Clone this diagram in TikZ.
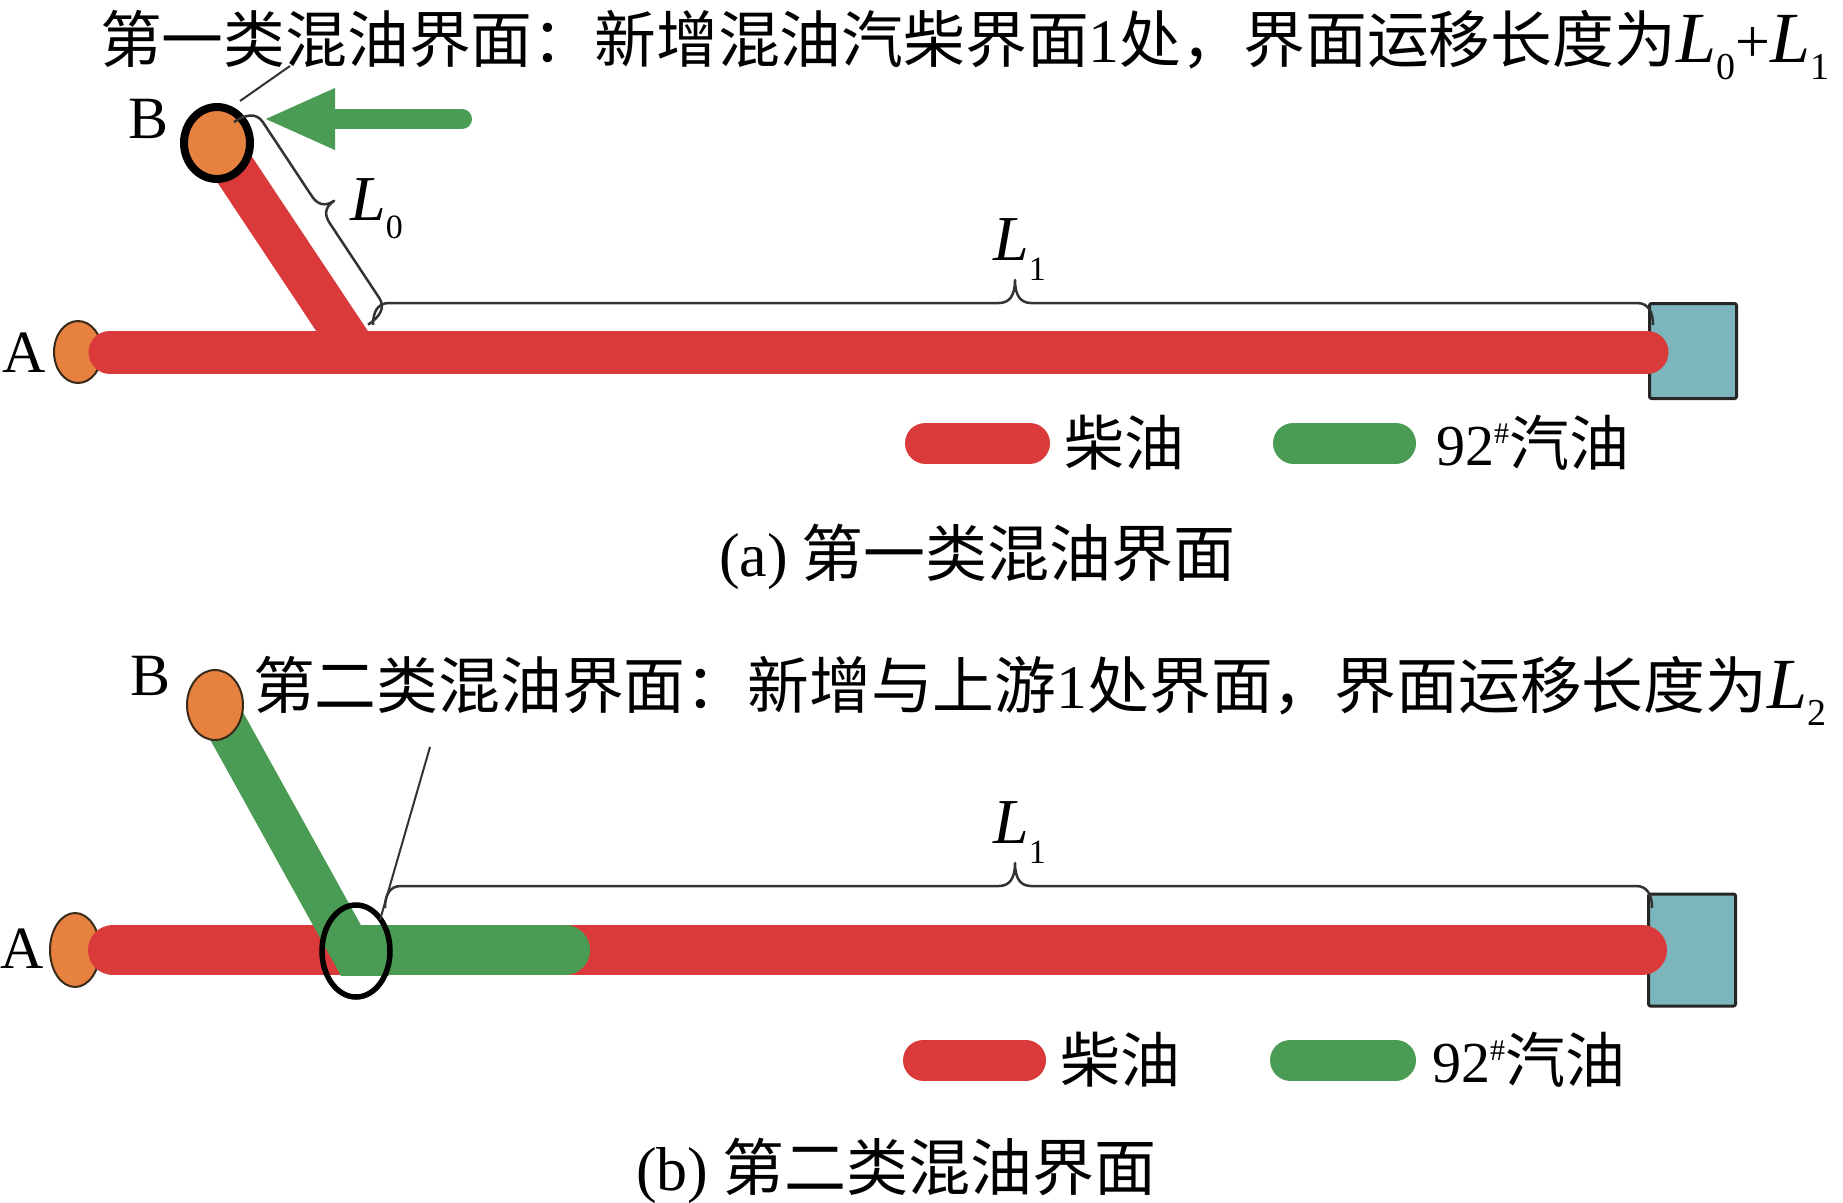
\documentclass[tikz,border=0pt]{standalone}
\usepackage{fontspec}
\setmainfont{Liberation Serif}
\newfontfamily\cjk{Noto Sans CJK SC}
\usetikzlibrary{shapes.geometric,arrows.meta}
\definecolor{pipered}{HTML}{DB3A3A}
\definecolor{pipegreen}{HTML}{4A9C55}
\definecolor{nodeorange}{HTML}{E6813F}
\definecolor{tankteal}{HTML}{7DB5BD}
\definecolor{edgebrown}{HTML}{3A2A1A}
\definecolor{bracegray}{HTML}{333333}
\newcommand{\Lsub}[4]{{\rmfamily\itshape\fontsize{#1}{#1}\selectfont L}\raisebox{-#3pt}{\rmfamily\fontsize{#2}{#2}\selectfont #4}}
\newcommand{\rmsz}[2]{{\rmfamily\fontsize{#1}{#1}\selectfont #2}}
\newcommand{\drawbrace}[6]{%
\begin{scope}[shift={(#1)},rotate=#2]
\draw[bracestyle] (0,0) .. controls (0,{-0.55*#5}) and (4,-#5) .. (16,-#5) -- ({#4-16},-#5) .. controls ({#4-6},-#5) and (#4,{-#5-0.3*(#6-#5)}) .. (#4,-#6) .. controls (#4,{-#5-0.3*(#6-#5)}) and ({#4+6},-#5) .. ({#4+16},-#5) -- ({#3-16},-#5) .. controls ({#3-4},-#5) and (#3,{-0.55*#5}) .. (#3,0);
\end{scope}}
\begin{document}
\begin{tikzpicture}[x=1pt,y=-1pt,
  txt/.style={inner sep=0pt, outer sep=0pt, font=\cjk\fontsize{61.8}{61.8}\selectfont},
  captxt/.style={inner sep=0pt, outer sep=0pt, font=\cjk\fontsize{62}{62}\selectfont},
  legtxt/.style={inner sep=0pt, outer sep=0pt, font=\cjk\fontsize{60}{60}\selectfont},
  lblB/.style={inner sep=0pt, font=\rmfamily\fontsize{60}{60}\selectfont},
  lblA/.style={inner sep=0pt, font=\rmfamily\fontsize{60}{60}\selectfont},
  mathlbl/.style={inner sep=0pt},
  tank/.style={draw=black!85, line width=3pt, fill=tankteal, rounded corners=2pt, inner sep=0pt},
  endnode/.style={ellipse, fill=nodeorange, draw=edgebrown, line width=2pt, inner sep=0pt},
  bracestyle/.style={draw=bracegray, line width=2.5pt, line join=round},
  leader/.style={draw=black!80, line width=2pt},
  pill/.style={line width=41pt, line cap=round}]
\fill[white] (0,0) rectangle (1843,1202);
\useasboundingbox (0,0) rectangle (1843,1202);

% ---------------- panel (a) ----------------
\node[txt, anchor=base west] (ta) at (100,62) {第一类混油界面：新增混油汽柴界面\rmsz{62}{1}处，界面运移长度为\Lsub{72}{38}{17}{0}\rmsz{62}{+}\Lsub{72}{38}{17}{1}};
\node[tank, minimum width=87pt, minimum height=95pt] (Ta) at (1693,351) {};
\node[endnode, minimum width=48pt, minimum height=62pt] (Aa) at (78,352) {};
\coordinate (aS) at (110,352);
\coordinate (aE) at (1647,352);
\coordinate (Ja) at (356,352);
\coordinate (Bac) at (217,143);
\draw[pipered, line width=43pt, line cap=round] (aS) -- (aE);
\draw[pipered, line width=43pt] (Bac) -- (Ja);
\node[ellipse, fill=nodeorange, draw=black, line width=8pt, minimum width=66pt, minimum height=72pt, inner sep=0pt] (Ba) at (Bac) {};
\node[lblB, anchor=base west] (labBa) at (128,138) {B};
\node[lblA, anchor=base west] (labAa) at (2,372) {A};
\coordinate (arS) at (462,119);
\coordinate (arT) at (263,119);
\draw[pipegreen, line width=20pt, line cap=round, -{Triangle[length=72pt,width=56pt]}] (arS) -- (arT);
\coordinate (lda1) at (290,66);
\coordinate (lda2) at (240,101);
\draw[leader] (lda1) -- (lda2);
\coordinate (b0) at (234,122);
\drawbrace{b0}{-56.5}{243}{121}{24}{40}
\node[mathlbl, anchor=base west] (L0a) at (350,220) {\Lsub{64}{34}{18}{0}};
\coordinate (b1a) at (373,325);
\drawbrace{b1a}{0}{1280}{642}{22}{45}
\node[mathlbl, anchor=base west] (L1a) at (993,260) {\Lsub{64}{34}{20}{1}};
\coordinate (pra1) at (925.5,443);
\coordinate (pra2) at (1029.5,443);
\coordinate (pga1) at (1293.5,443);
\coordinate (pga2) at (1395.5,443);
\draw[pill, pipered] (pra1) -- (pra2);
\draw[pill, pipegreen] (pga1) -- (pga2);
\node[legtxt, anchor=base west] (lega1) at (1064,465) {柴油};
\node[legtxt, anchor=base west] (lega2) at (1436,465) {\rmsz{58}{92}\raisebox{22pt}{\rmsz{30}{\#}}汽油};
\node[captxt, anchor=base west] (capa) at (719,576) {\rmsz{62}{(a)} 第一类混油界面};

% ---------------- panel (b) ----------------
\node[txt, anchor=base west] (tb) at (253,708) {第二类混油界面：新增与上游\rmsz{62}{1}处界面，界面运移长度为\Lsub{72}{38}{17}{2}};
\node[tank, minimum width=87pt, minimum height=112pt] (Tb) at (1692,950) {};
\node[endnode, minimum width=50pt, minimum height=74pt] (Ab) at (75,950) {};
\coordinate (bS) at (113,950);
\coordinate (bE) at (1642,950);
\coordinate (Jb) at (350,950);
\coordinate (gE) at (565,950);
\coordinate (Bbc) at (215,705);
\coordinate (Jbx) at (374,992);
\draw[pipered, line width=50pt, line cap=round] (bS) -- (bE);
\draw[pipegreen, line width=50pt] (Jb) -- (gE);
\fill[pipegreen] (gE) circle[radius=25pt];
\begin{scope}
\clip (0,0) rectangle (1843,975);
\draw[pipegreen, line width=42pt] (Bbc) -- (Jbx);
\end{scope}
\node[endnode, minimum width=56pt, minimum height=70pt] (Bb) at (Bbc) {};
\node[ellipse, draw=black, line width=5.5pt, minimum width=68pt, minimum height=92pt, inner sep=0pt] (ring) at (356,951) {};
\node[lblB, anchor=base west] (labBb) at (130,695) {B};
\node[lblA, anchor=base west] (labAb) at (0,968) {A};
\coordinate (ldb1) at (430,747);
\coordinate (ldb2) at (380,920);
\draw[leader] (ldb1) -- (ldb2);
\coordinate (b1b) at (385,908);
\drawbrace{b1b}{0}{1267}{630}{22}{45}
\node[mathlbl, anchor=base west] (L1b) at (993,843) {\Lsub{64}{34}{20}{1}};
\coordinate (prb1) at (923.5,1060);
\coordinate (prb2) at (1025.5,1060);
\coordinate (pgb1) at (1290.5,1060);
\coordinate (pgb2) at (1395.5,1060);
\draw[pill, pipered] (prb1) -- (prb2);
\draw[pill, pipegreen] (pgb1) -- (pgb2);
\node[legtxt, anchor=base west] (legb1) at (1060,1082) {柴油};
\node[legtxt, anchor=base west] (legb2) at (1432,1082) {\rmsz{58}{92}\raisebox{22pt}{\rmsz{30}{\#}}汽油};
\node[captxt, anchor=base west] (capb) at (636,1190) {\rmsz{62}{(b)} 第二类混油界面};
\end{tikzpicture}
\end{document}
